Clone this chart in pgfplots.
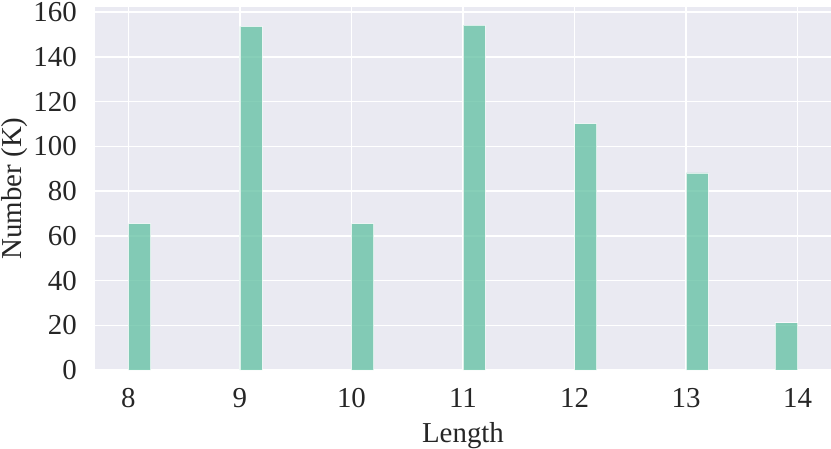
\documentclass[border=0pt]{standalone}
\usepackage{pgfplots}
\pgfplotsset{compat=1.18}
\usepackage{fontspec}
\setmainfont{Liberation Serif}
\usetikzlibrary{calc}
\definecolor{bgc}{HTML}{EAEAF2}
\definecolor{barc}{HTML}{66C2A5}
\begin{document}
\fontsize{29}{34}\selectfont
\begin{tikzpicture}
\begin{axis}[
  name=ax,
  scale only axis,
  width=736bp, height=363bp,
  xmin=7.7, xmax=14.3, ymin=0, ymax=162.3,
  axis background/.style={fill=bgc},
  axis line style={draw=none},
  grid=major,
  grid style={white, line width=1.4bp},
  major tick length=0pt,
  xtick={8,9,10,11,12,13,14},
  ytick={0,20,40,60,80,100,120,140,160},
  /pgf/number format/assume math mode=true,
  tick label style={font=\fontsize{29}{34}\selectfont, text=black!85, inner sep=0pt},
  label style={font=\fontsize{29}{34}\selectfont, text=black!85, inner sep=0pt},
  xlabel={Length}, ylabel={Number (K)},
  xticklabel style={anchor=north, yshift=-18bp},
  yticklabel style={anchor=east, xshift=-18bp},
  xlabel style={at={(axis description cs:0.5,0)}, anchor=base, yshift=-72bp},
  ylabel style={at={(axis description cs:0,0.5)}, anchor=base, rotate=0, yshift=73bp},
  clip=false,
]
\addplot[ybar, bar width=0.2, bar shift=0.1, fill=barc, fill opacity=0.78, draw=white, draw opacity=0.7, line width=0.8bp]
coordinates {(8,65.5) (9,153.6) (10,65.5) (11,154.2) (12,110.2) (13,88.1)};
\addplot[ybar, bar width=0.2, bar shift=-0.1, fill=barc, fill opacity=0.78, draw=white, draw opacity=0.7, line width=0.8bp]
coordinates {(14,21.2)};
\end{axis}
\pgfresetboundingbox
\path[use as bounding box] ($(ax.south west)+(-95bp,-78bp)$) rectangle ($(ax.north east)+(0,7bp)$);
\end{tikzpicture}
\end{document}
